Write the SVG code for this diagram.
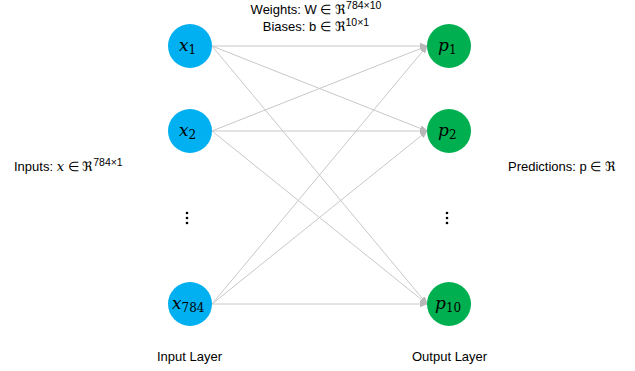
<svg xmlns="http://www.w3.org/2000/svg" width="635" height="371" viewBox="0 0 635 371">
<style>
.lbl{font-family:"Liberation Sans",Arial,sans-serif;font-size:13px;fill:#000}
.sup{font-size:10.5px}
.m{font-family:"DejaVu Serif","Liberation Serif",serif;font-style:italic;font-size:17px;fill:#000}
.sub{font-size:12px;font-style:normal}
.in{fill:#00B0F0}
.out{fill:#00B050}
.e{stroke:#c8c8c8;stroke-width:1;fill:none;marker-end:url(#ah)}
.dot{fill:#000}
</style>
<defs>
<marker id="ah" markerWidth="8" markerHeight="8" refX="7" refY="4" orient="auto" markerUnits="userSpaceOnUse">
<path d="M0,0.8 L8,4 L0,7.2 Z" fill="#b8b8b8"/>
</marker>
</defs>
<g id="connectors">
<line class="e" x1="212" y1="46" x2="427" y2="46"/>
<line class="e" x1="212" y1="46" x2="427" y2="131"/>
<line class="e" x1="212" y1="46" x2="427" y2="304"/>
<line class="e" x1="212" y1="131" x2="427" y2="46"/>
<line class="e" x1="212" y1="131" x2="427" y2="131"/>
<line class="e" x1="212" y1="131" x2="427" y2="304"/>
<line class="e" x1="212" y1="304" x2="427" y2="46"/>
<line class="e" x1="212" y1="304" x2="427" y2="131"/>
<line class="e" x1="212" y1="304" x2="427" y2="304"/>
</g>
<g id="x1"><circle class="in" cx="190" cy="46" r="22"/><text class="m" x="179" y="51">x<tspan class="sub" dy="3">1</tspan></text></g>
<g id="x2"><circle class="in" cx="190" cy="131" r="22"/><text class="m" x="179" y="136">x<tspan class="sub" dy="3">2</tspan></text></g>
<g id="x784"><circle class="in" cx="190" cy="304" r="22"/><text class="m" x="172" y="309">x<tspan class="sub" dy="3">784</tspan></text></g>
<g id="p1"><circle class="out" cx="449" cy="46" r="22"/><text class="m" x="438" y="51">p<tspan class="sub" dy="3">1</tspan></text></g>
<g id="p2"><circle class="out" cx="449" cy="131" r="22"/><text class="m" x="438" y="136">p<tspan class="sub" dy="3">2</tspan></text></g>
<g id="p10"><circle class="out" cx="449" cy="304" r="22"/><text class="m" x="435" y="309">p<tspan class="sub" dy="3">10</tspan></text></g>
<g id="dots-in"><circle class="dot" cx="187" cy="213" r="1.3"/><circle class="dot" cx="187" cy="218" r="1.3"/><circle class="dot" cx="187" cy="223" r="1.3"/></g>
<g id="dots-out"><circle class="dot" cx="447" cy="213" r="1.3"/><circle class="dot" cx="447" cy="218" r="1.3"/><circle class="dot" cx="447" cy="223" r="1.3"/></g>
<text class="lbl" x="316" y="14" text-anchor="middle">Weights: W ∈ ℜ<tspan class="sup" dy="-5">784×10</tspan></text>
<text class="lbl" x="316" y="31" text-anchor="middle">Biases: b ∈ ℜ<tspan class="sup" dy="-5">10×1</tspan></text>
<text class="lbl" x="14" y="171">Inputs: <tspan font-family="DejaVu Serif,serif" font-style="italic">x</tspan> ∈ ℜ<tspan class="sup" dy="-5">784×1</tspan></text>
<text class="lbl" x="508" y="171">Predictions: p ∈ ℜ</text>
<text class="lbl" x="157" y="361">Input Layer</text>
<text class="lbl" x="412" y="361">Output Layer</text>
</svg>
